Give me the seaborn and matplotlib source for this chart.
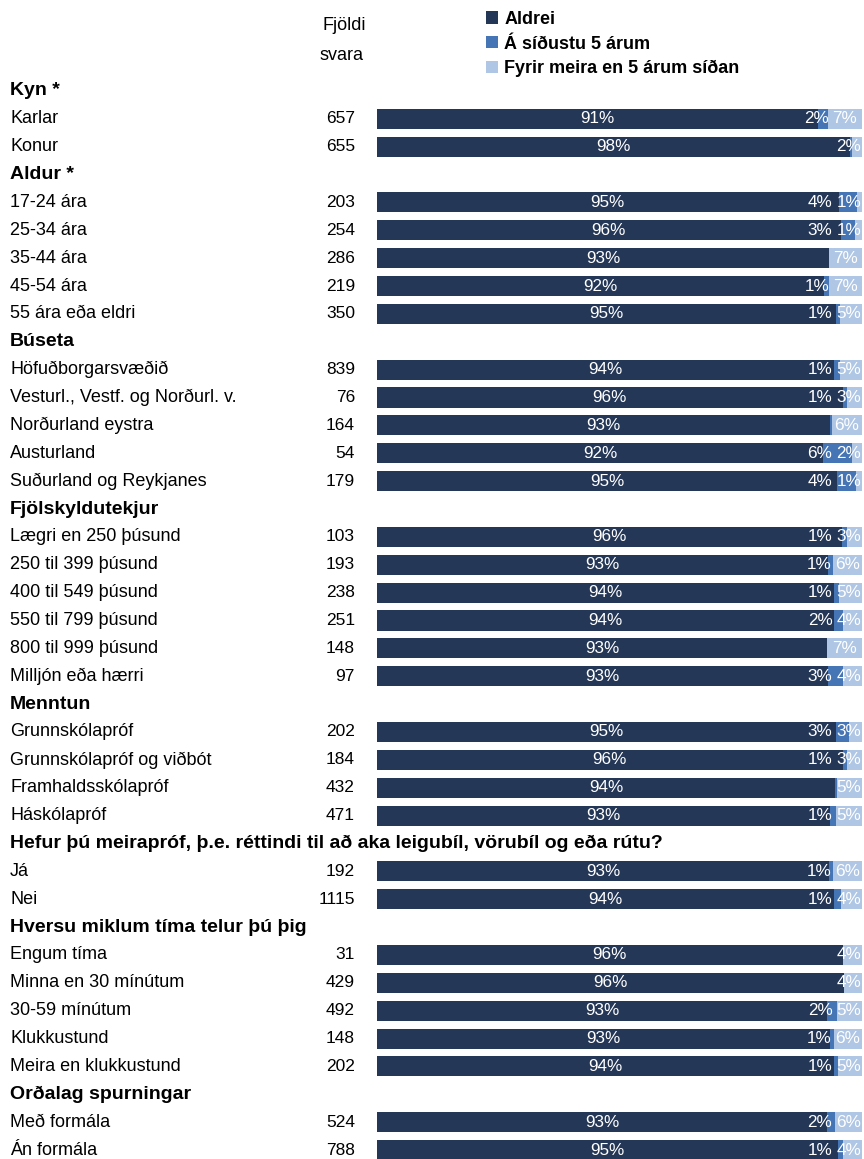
import matplotlib
matplotlib.use("Agg")
import matplotlib.pyplot as plt
import matplotlib.transforms as mtransforms
import seaborn as sns
import pandas as pd
import numpy as np

# ---------------- data ----------------
row_labels = [
    "Kyn *", "Karlar", "Konur",
    "Aldur *", "17-24 ára", "25-34 ára", "35-44 ára", "45-54 ára", "55 ára eða eldri",
    "Búseta", "Höfuðborgarsvæðið", "Vesturl., Vestf. og Norðurl. v.", "Norðurland eystra",
    "Austurland", "Suðurland og Reykjanes",
    "Fjölskyldutekjur", "Lægri en 250 þúsund", "250 til 399 þúsund", "400 til 549 þúsund",
    "550 til 799 þúsund", "800 til 999 þúsund", "Milljón eða hærri",
    "Menntun", "Grunnskólapróf", "Grunnskólapróf og viðbót", "Framhaldsskólapróf", "Háskólapróf",
    "Hefur þú meirapróf, þ.e. réttindi til að aka leigubíl, vörubíl og eða rútu?", "Já", "Nei",
    "Hversu miklum tíma telur þú þig", "Engum tíma", "Minna en 30 mínútum", "30-59 mínútum",
    "Klukkustund", "Meira en klukkustund",
    "Orðalag spurningar", "Með formála", "Án formála",
]
headings = ["Kyn *", "Aldur *", "Búseta", "Fjölskyldutekjur", "Menntun",
            "Hefur þú meirapróf, þ.e. réttindi til að aka leigubíl, vörubíl og eða rútu?",
            "Hversu miklum tíma telur þú þig", "Orðalag spurningar"]

counts = [None, 657, 655,
          None, 203, 254, 286, 219, 350,
          None, 839, 76, 164, 54, 179,
          None, 103, 193, 238, 251, 148, 97,
          None, 202, 184, 432, 471,
          None, 192, 1115,
          None, 31, 429, 492, 148, 202,
          None, 524, 788]

aldrei = [None, 91.0, 97.6,
          None, 95.2, 95.6, 93.2, 92.2, 94.6,
          None, 94.2, 96.0, 93.4, 92.0, 94.8,
          None, 95.8, 93.0, 94.2, 94.2, 92.8, 93.0,
          None, 94.6, 96.0, 94.4, 93.4,
          None, 93.2, 94.3,
          None, 96.0, 96.2, 92.8, 93.4, 94.2,
          None, 92.8, 95.0]

sidustu5 = [None, 1.9, 0.4,
            None, 3.8, 3.0, 0.0, 1.0, 0.8,
            None, 1.2, 1.0, 0.4, 6.0, 4.0,
            None, 1.2, 1.0, 1.0, 1.8, 0.0, 3.0,
            None, 2.8, 1.0, 0.4, 1.2,
            None, 0.8, 1.4,
            None, 0.0, 0.0, 2.0, 0.8, 0.8,
            None, 1.6, 1.0]

fyrir5 = [None, 7.1, 1.9,
          None, 1.0, 1.4, 6.8, 6.8, 4.6,
          None, 4.6, 3.0, 6.2, 2.0, 1.2,
          None, 3.0, 6.0, 4.8, 4.0, 7.2, 4.0,
          None, 2.6, 3.0, 5.2, 5.4,
          None, 6.0, 4.3,
          None, 4.0, 3.8, 5.2, 5.8, 5.0,
          None, 5.6, 4.0]

series_names = ["Aldrei", "Á síðustu 5 árum", "Fyrir meira en 5 árum síðan"]
colors = ["#243757", "#4575b4", "#afc6e4"]

# ---------------- figure ----------------
sns.set_theme(style="white")
plt.rcParams["font.family"] = ["Liberation Sans", "DejaVu Sans"]
plt.rcParams["text.color"] = "black"

W, H = 864, 1159
fig = plt.figure(figsize=(W / 100, H / 100), dpi=100)
ax_left, ax_right = 377 / W, 862 / W
ax_top_px = 77
ax = fig.add_axes([ax_left, 0.0, ax_right - ax_left, 1 - ax_top_px / H])

df = pd.DataFrame({"row": row_labels, "a": aldrei, "b": sidustu5, "c": fyrir5})
df = df[~df["row"].isin(headings)].copy()
df["ab"] = df["a"] + df["b"]
df["abc"] = df["ab"] + df["c"]

bw = 0.72
sns.barplot(data=df, x="abc", y="row", order=row_labels, orient="h", color=colors[2],
            saturation=1, width=bw, linewidth=0, label=series_names[2], ax=ax, errorbar=None)
sns.barplot(data=df, x="ab", y="row", order=row_labels, orient="h", color=colors[1],
            saturation=1, width=bw, linewidth=0, label=series_names[1], ax=ax, errorbar=None)
sns.barplot(data=df, x="a", y="row", order=row_labels, orient="h", color=colors[0],
            saturation=1, width=bw, linewidth=0, label=series_names[0], ax=ax, errorbar=None)

ax.set_xlim(0, 100)
ax.set_ylim(38.32, -0.5)
ax.set_xlabel("")
ax.set_ylabel("")
ax.set_xticks([])
ax.set_yticks([])
for s in ax.spines.values():
    s.set_visible(False)
if ax.get_legend() is not None:
    ax.get_legend().remove()

fs_row = 13.0
fs_head = 14.0
fs_count = 12.5
fs_pct = 12.3
fs_leg = 13.0

# row labels and counts
trans = mtransforms.blended_transform_factory(fig.transFigure, ax.transData)
for i, lab in enumerate(row_labels):
    if lab in headings:
        ax.text(10 / W, i, lab, transform=trans, ha="left", va="center",
                fontsize=fs_head, fontweight="bold", color="black")
    else:
        ax.text(10 / W, i, lab, transform=trans, ha="left", va="center",
                fontsize=fs_row, color="black")
        ax.text(355 / W, i, f"{counts[i]}", transform=trans, ha="right", va="center",
                fontsize=fs_count, color="black")

# header
fig.text(344 / W, 1 - 26 / H, "Fjöldi", ha="center", va="center", fontsize=fs_row, color="black")
fig.text(342 / W, 1 - 56 / H, "svara", ha="center", va="center", fontsize=fs_row, color="black")

# value labels
fig.canvas.draw()
renderer = fig.canvas.get_renderer()
ax_w_px = ax.get_window_extent(renderer).width
pad = 0.2
gap = 0.8

def width_data(t):
    return t.get_window_extent(renderer).width / ax_w_px * 100

for i, lab in enumerate(row_labels):
    if lab in headings:
        continue
    a, b, c = aldrei[i], sidustu5[i], fyrir5[i]
    ax.text(a / 2, i, f"{round(a)}%", ha="center", va="center", fontsize=fs_pct, color="white")
    limit = 100 - pad
    if round(c) > 0:
        t = ax.text(a + b + c / 2, i, f"{round(c)}%", ha="center", va="center",
                    fontsize=fs_pct, color="white")
        w = width_data(t)
        cx = a + b + c / 2
        if cx + w / 2 > limit:
            cx = limit - w / 2
            t.set_x(cx)
        limit = cx - w / 2 - gap
    if round(b) > 0:
        t = ax.text(a + b / 2, i, f"{round(b)}%", ha="center", va="center",
                    fontsize=fs_pct, color="white")
        w = width_data(t)
        cx = a + b / 2
        if cx + w / 2 > limit:
            cx = limit - w / 2
            t.set_x(cx)

# legend
h, l = ax.get_legend_handles_labels()
hm = dict(zip(l, h))
handles = [hm[n] for n in series_names]
leg = fig.legend(handles, series_names, loc="upper left", bbox_to_anchor=(486 / W, 1 - 11 / H),
                 frameon=False, borderpad=0, borderaxespad=0, handlelength=0.68, handleheight=0.68,
                 handletextpad=0.33, labelspacing=0.42,
                 prop={"family": ["Liberation Sans", "DejaVu Sans"], "weight": "bold", "size": fs_leg})
for t in leg.get_texts():
    t.set_color("black")

fig.savefig("out.png", dpi=100)
